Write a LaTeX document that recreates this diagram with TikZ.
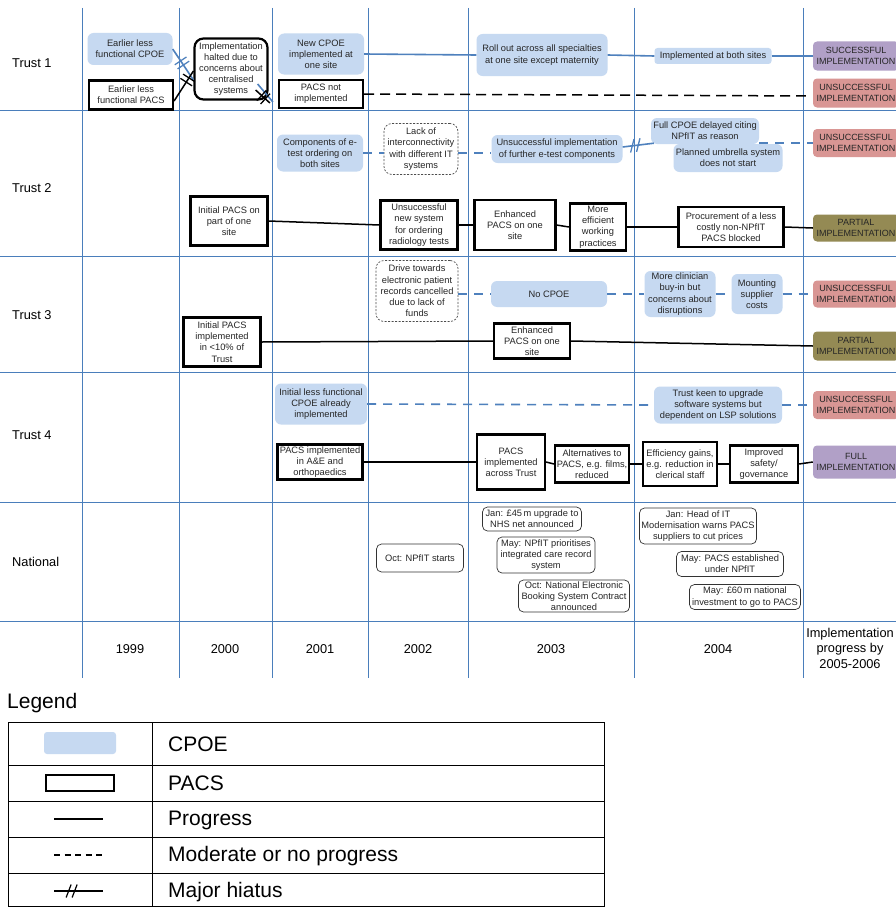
\documentclass[tikz,border=0pt]{standalone}
\usepackage{fontspec}
\setmainfont{Liberation Sans}
\usetikzlibrary{calc}
\definecolor{cpoefill}{HTML}{C6D9F1}
\definecolor{cblue}{HTML}{4F81BD}
\definecolor{gridblue}{HTML}{4A7EBB}
\definecolor{succcol}{HTML}{B1A0C7}
\definecolor{unsucccol}{HTML}{D99694}
\definecolor{partcol}{HTML}{948A54}
\newcommand{\boxfnt}{\fontsize{9.3}{11.2}\selectfont}
\newcommand{\statfnt}{\fontsize{9}{11.5}\selectfont}
\newcommand{\labfnt}{\fontsize{12.8}{15.5}\selectfont}
\newcommand{\legfnt}{\fontsize{21}{25}\selectfont}
\begin{document}
\begin{tikzpicture}[x=1pt,y=-1pt,
  txtbox/.style={inner sep=0pt, align=center, font=\boxfnt, text=black!85},
  cpoebox/.style={txtbox, fill=cpoefill, rounded corners=6pt},
  pacsbox/.style={txtbox, draw=black, line width=2.2pt, fill=white},
  haltbox/.style={pacsbox, rounded corners=9pt},
  natlbox/.style={txtbox, draw=black!80, line width=0.7pt, rounded corners=5pt, fill=white},
  dashbox/.style={txtbox, draw=black!70, line width=0.7pt, dash pattern=on 2pt off 1.5pt, rounded corners=8pt, fill=white},
  statbox/.style={inner sep=0pt, align=center, font=\statfnt, text=black!85, rounded corners=4pt, minimum width=86pt},
  cline/.style={draw=cblue, line width=1.6pt},
  cdash/.style={cline, dash pattern=on 9pt off 7pt},
  pline/.style={draw=black, line width=1.5pt},
  pdash/.style={pline, dash pattern=on 10pt off 6pt},
  gridln/.style={draw=gridblue, line width=0.9pt},
  rowlab/.style={font=\labfnt, anchor=west, inner sep=0pt},
  yearlab/.style={font=\labfnt, align=center, inner sep=0pt},
  leglab/.style={font=\legfnt, anchor=west, inner sep=0pt},
  hperpb/.pic={\draw[cblue, solid, line width=1.3pt] (-2.5pt,-7pt) -- (-2.5pt,7pt) (2.5pt,-7pt) -- (2.5pt,7pt);},
  hperpk/.pic={\draw[black, solid, line width=1.3pt] (-2.5pt,-7pt) -- (-2.5pt,7pt) (2.5pt,-7pt) -- (2.5pt,7pt);},
  hslb/.pic={\draw[cblue, solid, line width=1.3pt] (-6pt,-6.5pt) -- (-1pt,6.5pt) (0pt,-6.5pt) -- (5pt,6.5pt);},
  hslk/.pic={\draw[black, solid, line width=1.2pt] (-6pt,-6.5pt) -- (-1pt,6.5pt) (0pt,-6.5pt) -- (5pt,6.5pt);}
]
\useasboundingbox (0,0) rectangle (896,907);
\clip (0,0) rectangle (896,907);
\fill[white] (0,0) rectangle (896,907);

% grid
\foreach \yy in {110,256,372,502,621} \draw[gridln] (0,\yy) -- (896,\yy);
\foreach \xx in {82,179,272,368,468,634,803} \draw[gridln] (\xx,8) -- (\xx,678);

% row labels
\node[rowlab] (r1) at (12,63) {Trust 1};
\node[rowlab] (r2) at (12,188) {Trust 2};
\node[rowlab] (r3) at (12,315) {Trust 3};
\node[rowlab] (r4) at (12,435) {Trust 4};
\node[rowlab] (r5) at (12,562) {National};

% years
\node[yearlab] (y1999) at (130,649) {1999};
\node[yearlab] (y2000) at (225,649) {2000};
\node[yearlab] (y2001) at (320,649) {2001};
\node[yearlab] (y2002) at (418,649) {2002};
\node[yearlab] (y2003) at (551,649) {2003};
\node[yearlab] (y2004) at (718,649) {2004};
\node[yearlab] (y2005) at (850,648) {Implementation\\progress by\\2005-2006};

% ---------- Trust 1
\node[cpoebox, minimum width=85pt, minimum height=32pt] (cpoe1) at (130,49) {Earlier less\\functional CPOE};
\node[pacsbox, minimum width=84pt, minimum height=29pt] (pacs1) at (131,95) {Earlier less\\functional PACS};
\node[haltbox, minimum width=73pt, minimum height=61pt] (halted) at (231,69) {Implementation\\halted due to\\concerns about\\centralised\\systems};
\node[cpoebox, minimum width=86pt, minimum height=41pt] (newcpoe) at (321,54) {New CPOE\\implemented at\\one site};
\node[pacsbox, minimum width=84pt, minimum height=28pt] (pacsnot) at (321,94) {PACS not\\implemented};
\node[cpoebox, minimum width=131pt, minimum height=42pt] (rollout) at (542,55) {Roll out across all specialties\\at one site except maternity};
\node[cpoebox, minimum width=117pt, minimum height=16pt, rounded corners=3pt] (both) at (713,56) {Implemented at both sites};
\node[statbox, fill=succcol, minimum height=29pt] (succ1) at (856,56) {SUCCESSFUL\\IMPLEMENTATION};
\node[statbox, fill=unsucccol, minimum height=29pt] (uns1) at (856,93) {UNSUCCESSFUL\\IMPLEMENTATION};

\draw[cline] (cpoe1.east) -- ($(halted.west)+(0,11)$) pic[pos=.45,sloped]{hperpb};
\draw[pline] ($(pacs1.east)+(0,6)$) -- ($(halted.west)+(0,2)$) pic[pos=.7,sloped]{hperpk};
\draw[cline] ($(halted.east)+(-11,15)$) -- ($(pacsnot.west)+(-5,8)$);
\draw[pline] ($(halted.east)+(-13,21)$) -- ($(pacsnot.west)+(-8,9)$) pic[pos=.55,sloped]{hperpk};
\draw[cline] (newcpoe.east) -- (rollout.west);
\draw[cline] (rollout.east) -- (both.west);
\draw[cline] (both.east) -- (succ1.west);
\draw[pdash, shorten >=7pt] (pacsnot.east) -- ($(uns1.west)+(0,3)$);

% ---------- Trust 2
\node[cpoebox, minimum width=86pt, minimum height=37pt] (comp) at (320,153) {Components of e-\\test ordering on\\both sites};
\node[dashbox, minimum width=74pt, minimum height=51pt] (lack) at (421,149) {Lack of\\interconnectivity\\with different IT\\systems};
\node[cpoebox, minimum width=131pt, minimum height=28pt] (ets) at (557,149) {Unsuccessful implementation\\of further e-test components};
\node[cpoebox, minimum width=108pt, minimum height=26pt] (fullcpoe) at (705,131) {Full CPOE delayed citing\\NPfIT as reason};
\node[cpoebox, minimum width=109pt, minimum height=28pt] (planned) at (728,158) {Planned umbrella system\\does not start};
\node[statbox, fill=unsucccol, minimum height=28pt] (uns2) at (856,143) {UNSUCCESSFUL\\IMPLEMENTATION};
\node[pacsbox, minimum width=77pt, minimum height=49pt] (ip2) at (229,221) {Initial PACS on\\part of one\\site};
\node[pacsbox, minimum width=77pt, minimum height=49pt] (usys) at (419,225) {Unsuccessful\\new system\\for ordering\\radiology tests};
\node[pacsbox, minimum width=81pt, minimum height=50pt] (enh2) at (515,225) {Enhanced\\PACS on one\\site};
\node[pacsbox, minimum width=56pt, minimum height=47pt] (mep) at (598,227) {More\\efficient\\working\\practices};
\node[pacsbox, minimum width=105pt, minimum height=40pt] (proc) at (731,227) {Procurement of a less\\costly non-NPfIT\\PACS blocked};
\node[statbox, fill=partcol, minimum height=27pt] (part2) at (856,228) {PARTIAL\\IMPLEMENTATION};

\draw[cdash] (comp.east) -- (comp.east -| lack.west);
\draw[cdash] (comp.east -| lack.east) -- (comp.east -| ets.west);
\draw[cline] ($(ets.east)+(0,-2)$) -- ($(fullcpoe.south west)+(3,-1)$) pic[pos=.42,sloped]{hslb};
\draw[cdash] (fullcpoe.east |- uns2.west) -- (uns2.west);
\draw[pline] (ip2.east) -- (usys.west);
\draw[pline] (usys.east) -- (enh2.west);
\draw[pline] (enh2.east) -- (mep.west);
\draw[pline] (mep.east) -- (proc.west);
\draw[pline] (proc.east) -- (part2.west);

% ---------- Trust 3
\node[dashbox, minimum width=82pt, minimum height=61pt] (drive) at (417,291) {Drive towards\\electronic patient\\records cancelled\\due to lack of\\funds};
\node[cpoebox, minimum width=116pt, minimum height=26pt] (nocpoe) at (549,294) {No CPOE};
\node[cpoebox, minimum width=71pt, minimum height=46pt] (clin) at (680,294) {More clinician\\buy-in but\\concerns about\\disruptions};
\node[cpoebox, minimum width=51pt, minimum height=40pt] (mount) at (757,294) {Mounting\\supplier\\costs};
\node[statbox, fill=unsucccol, minimum height=27pt] (uns3) at (856,294) {UNSUCCESSFUL\\IMPLEMENTATION};
\node[pacsbox, minimum width=77pt, minimum height=49pt] (ip3) at (222,342) {Initial PACS\\implemented\\in <10\% of\\Trust};
\node[pacsbox, minimum width=76pt, minimum height=35pt] (enh3) at (532,341) {Enhanced\\PACS on one\\site};
\node[statbox, fill=partcol, minimum height=29pt] (part3) at (856,346) {PARTIAL\\IMPLEMENTATION};

\draw[cdash] (drive.east |- nocpoe.west) -- (nocpoe.west);
\draw[cdash] (nocpoe.east) -- (clin.west);
\draw[cdash] (clin.east) -- (mount.west);
\draw[cdash] (mount.east) -- (uns3.west);
\draw[pline] (ip3.east) -- (enh3.west);
\draw[pline] (enh3.east) -- (part3.west);

% ---------- Trust 4
\node[cpoebox, minimum width=92pt, minimum height=41pt] (ilf) at (321,404) {Initial less functional\\CPOE already\\implemented};
\node[cpoebox, minimum width=128pt, minimum height=37pt] (tk) at (718,405) {Trust keen to upgrade\\software systems but\\dependent on LSP solutions};
\node[statbox, fill=unsucccol, minimum height=28pt] (uns4) at (856,405) {UNSUCCESSFUL\\IMPLEMENTATION};
\node[pacsbox, minimum width=85pt, minimum height=35pt] (ae) at (320,462) {PACS implemented\\in A\&E and\\orthopaedics};
\node[pacsbox, minimum width=68pt, minimum height=55pt] (pat) at (511,462) {PACS\\implemented\\across Trust};
\node[pacsbox, minimum width=74pt, minimum height=37pt] (alt) at (592,464) {Alternatives to\\PACS, e.g. films,\\reduced};
\node[pacsbox, minimum width=74pt, minimum height=44pt] (eff) at (680,464) {Efficiency gains,\\e.g. reduction in\\clerical staff};
\node[pacsbox, minimum width=68pt, minimum height=37pt] (imp) at (764,464) {Improved\\safety/\\governance};
\node[statbox, fill=succcol, minimum height=33pt] (full4) at (856,462) {FULL\\IMPLEMENTATION};

\draw[cdash] (ilf.east) -- (tk.west);
\draw[cdash] (tk.east) -- (uns4.west);
\draw[pline] (ae.east) -- (pat.west);
\draw[pline] (pat.east) -- (alt.west);
\draw[pline] (alt.east) -- (eff.west);
\draw[pline] (eff.east) -- (imp.west);
\draw[pline] (imp.east) -- (full4.west);

% ---------- National
\node[natlbox, minimum width=87pt, minimum height=28pt] (npf) at (420,558) {Oct: NPfIT starts};
\node[natlbox, minimum width=99pt, minimum height=24pt] (jan45) at (532,519) {Jan: £45\,m upgrade to\\NHS net announced};
\node[natlbox, minimum width=98pt, minimum height=36pt] (maynp) at (546,555) {May: NPfIT prioritises\\integrated care record\\system};
\node[natlbox, minimum width=111pt, minimum height=32pt] (octnat) at (574,596) {Oct: National Electronic\\Booking System Contract\\announced};
\node[natlbox, minimum width=117pt, minimum height=36pt] (janhead) at (698,526) {Jan: Head of IT\\Modernisation warns PACS\\suppliers to cut prices};
\node[natlbox, minimum width=107pt, minimum height=25pt] (maypacs) at (730,564) {May: PACS established\\under NPfIT};
\node[natlbox, minimum width=111pt, minimum height=25pt] (may60) at (745,597) {May: £60\,m national\\investment to go to PACS};

% ---------- Legend
\node[leglab] (legtitle) at (7,703) {Legend};
\draw[black, line width=0.9pt] (8,722) rectangle (604,906.5);
\foreach \yy in {765,801,837,873} \draw[black, line width=0.9pt] (8,\yy) -- (604,\yy);
\draw[black, line width=0.9pt] (152,722) -- (152,906.5);
\fill[cpoefill, rounded corners=3pt] (44,732) rectangle (116,754);
\draw[black, line width=2pt] (46,775) rectangle (114,791);
\draw[pline] (54,819) -- (103,819);
\draw[black, line width=1.3pt, dash pattern=on 6pt off 4.5pt] (54,855) -- (103,855);
\draw[pline] (54,891) -- (103,891) pic[pos=.37]{hslk};
\node[leglab] (lcpoe) at (168,744) {CPOE};
\node[leglab] (lpacs) at (168,783) {PACS};
\node[leglab] (lprog) at (168,820) {Progress};
\node[leglab] (lmod) at (168,856) {Moderate or no progress};
\node[leglab] (lhia) at (168,892) {Major hiatus};
\end{tikzpicture}
\end{document}
